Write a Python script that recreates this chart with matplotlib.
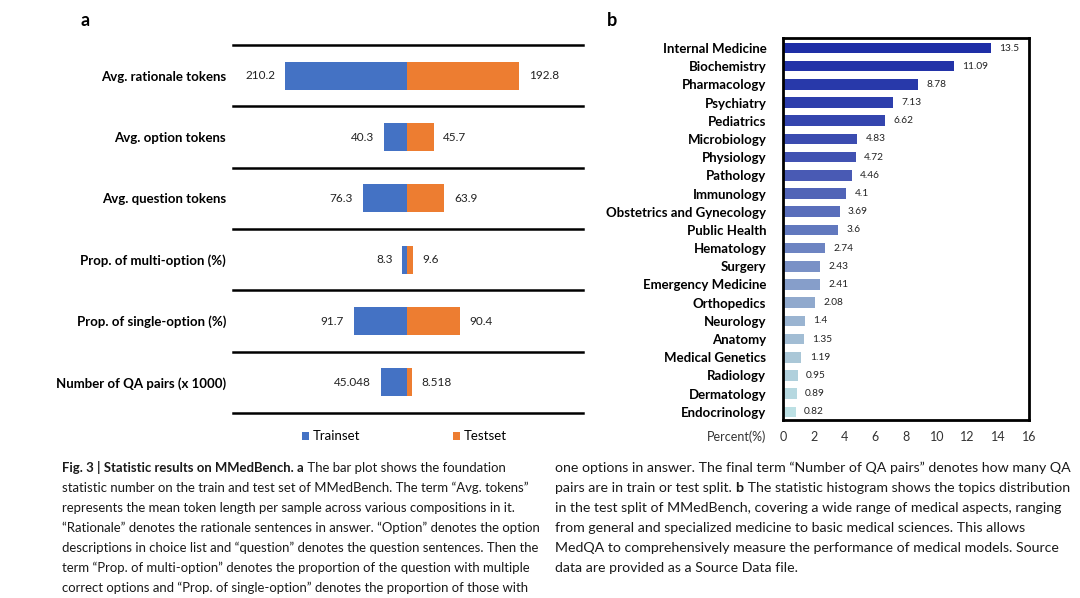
import matplotlib
matplotlib.use('Agg')
import matplotlib.pyplot as plt
import numpy as np
from matplotlib.colors import LinearSegmentedColormap
from matplotlib.patches import Patch

# ---------------- data ----------------
stat_labels = ["Avg. rationale tokens", "Avg. option tokens", "Avg. question tokens",
               "Prop. of multi-option (%)", "Prop. of single-option (%)",
               "Number of QA pairs (x 1000)"]
train_vals = [210.2, 40.3, 76.3, 8.3, 91.7, 45.048]
test_vals = [192.8, 45.7, 63.9, 9.6, 90.4, 8.518]

topics = ["Internal Medicine", "Biochemistry", "Pharmacology", "Psychiatry", "Pediatrics",
          "Microbiology", "Physiology", "Pathology", "Immunology",
          "Obstetrics and Gynecology", "Public Health", "Hematology", "Surgery",
          "Emergency Medicine", "Orthopedics", "Neurology", "Anatomy",
          "Medical Genetics", "Radiology", "Dermatology", "Endocrinology"]
topic_pct = [13.5, 11.09, 8.78, 7.13, 6.62, 4.83, 4.72, 4.46, 4.1, 3.69, 3.6, 2.74,
             2.43, 2.41, 2.08, 1.4, 1.35, 1.19, 0.95, 0.89, 0.82]
pct_ticks = [0, 2, 4, 6, 8, 10, 12, 14, 16]

caption_left = [
    [("Fig. 3 | Statistic results on MMedBench. a", True), (" The bar plot shows the foundation", False)],
    [("statistic number on the train and test set of MMedBench. The term \u201cAvg. tokens\u201d", False)],
    [("represents the mean token length per sample across various compositions in it.", False)],
    [("\u201cRationale\u201d denotes the rationale sentences in answer. \u201cOption\u201d denotes the option", False)],
    [("descriptions in choice list and \u201cquestion\u201d denotes the question sentences. Then the", False)],
    [("term \u201cProp. of multi-option\u201d denotes the proportion of the question with multiple", False)],
    [("correct options and \u201cProp. of single-option\u201d denotes the proportion of those with", False)],
]
caption_right = [
    [("one options in answer. The final term \u201cNumber of QA pairs\u201d denotes how many QA", False)],
    [("pairs are in train or test split. ", False), ("b", True), (" The statistic histogram shows the topics distribution", False)],
    [("in the test split of MMedBench, covering a wide range of medical aspects, ranging", False)],
    [("from general and specialized medicine to basic medical sciences. This allows", False)],
    [("MedQA to comprehensively measure the performance of medical models. Source", False)],
    [("data are provided as a Source Data file.", False)],
]

# ---------------- style ----------------
BLUE = '#4472C4'
ORANGE = '#ED7D31'
LABEL_FONT = ['Lato', 'DejaVu Sans']
CAP_FONT = ['Lato', 'DejaVu Sans']
W, H = 1080, 598

fig = plt.figure(figsize=(W / 100, H / 100), dpi=100)
fig.patch.set_facecolor('white')

def fx(px):
    return px / W

def fy(py):
    return 1 - py / H

# ---------------- panel a ----------------
axa = fig.add_axes([fx(233), fy(413), fx(583) - fx(233), fy(45) - fy(413)])
ypos = np.arange(len(stat_labels))
tr = np.array(train_vals)
te = np.array(test_vals)
axa.barh(ypos, -tr, height=0.46, color=BLUE, edgecolor='none')
axa.barh(ypos, te, height=0.46, color=ORANGE, edgecolor='none')
axa.set_xlim(-300, 303)
axa.set_ylim(len(stat_labels) - 0.5, -0.5)
for b in np.arange(len(stat_labels) + 1) - 0.5:
    axa.axhline(b, color='black', lw=1.8, clip_on=False)
for s in axa.spines.values():
    s.set_visible(False)
axa.set_xticks([])
axa.set_yticks(ypos)
axa.set_yticklabels(stat_labels, fontfamily=LABEL_FONT, fontweight='bold', fontsize=9.5)
axa.tick_params(axis='y', length=0, pad=5)
for i, (a, b) in enumerate(zip(train_vals, test_vals)):
    axa.annotate(str(a), (-a, i), xytext=(-7, 0), textcoords='offset points',
                 ha='right', va='center', fontsize=8.5, fontfamily=LABEL_FONT, color='#222222')
    axa.annotate(str(b), (b, i), xytext=(7, 0), textcoords='offset points',
                 ha='left', va='center', fontsize=8.5, fontfamily=LABEL_FONT, color='#222222')
handles = [Patch(facecolor=BLUE, label='Trainset'), Patch(facecolor=ORANGE, label='Testset')]
leg = axa.legend(handles=handles, loc='upper center', bbox_to_anchor=(0.49, -0.015), ncol=2,
                 frameon=False, handlelength=0.55, handleheight=0.55, handletextpad=0.3,
                 columnspacing=7.0, prop={'family': LABEL_FONT, 'size': 9.5})

fig.text(fx(85), fy(20), 'a', fontsize=13, fontweight='bold', fontfamily=LABEL_FONT,
         ha='center', va='center')
fig.text(fx(612), fy(20), 'b', fontsize=13, fontweight='bold', fontfamily=LABEL_FONT,
         ha='center', va='center')

# ---------------- panel b ----------------
axb = fig.add_axes([fx(783), fy(420), fx(1029) - fx(783), fy(38) - fy(420)])
cmap = LinearSegmentedColormap.from_list('topic', ['#1E2EA6', '#2F40AD', '#4657B3', '#6178BE',
                                                   '#8AA2CB', '#A8C4D6', '#BCE0E4'])
colors = cmap(np.linspace(0, 1, len(topics)))
yb = np.arange(len(topics))
axb.barh(yb, topic_pct, height=0.58, color=colors, edgecolor='none')
axb.set_xlim(0, 16)
axb.set_ylim(len(topics) - 0.55, -0.55)
axb.set_xticks(pct_ticks)
axb.set_xticklabels([str(t) for t in pct_ticks], fontfamily=LABEL_FONT, fontsize=9, color='#333333')
axb.tick_params(axis='x', length=0, pad=8)
axb.set_yticks(yb)
axb.set_yticklabels(topics, fontfamily=LABEL_FONT, fontweight='bold', fontsize=9.5)
axb.tick_params(axis='y', length=0, pad=12)
for s in axb.spines.values():
    s.set_linewidth(2.0)
    s.set_color('black')
for i, v in enumerate(topic_pct):
    axb.annotate(str(v), (v, i), xytext=(6, 0), textcoords='offset points',
                 ha='left', va='center', fontsize=7.3, fontfamily=LABEL_FONT, color='#222222')
fig.text(fx(766), fy(437), 'Percent(%)', ha='right', va='center', fontsize=9,
         fontfamily=LABEL_FONT, color='#333333')

# ---------------- caption ----------------
fig.canvas.draw()
renderer = fig.canvas.get_renderer()

def line_width(segs, size):
    total = 0.0
    for txt, bold in segs:
        t = fig.text(0, 0, txt, fontsize=size, fontfamily=CAP_FONT,
                     fontweight='bold' if bold else 'normal')
        total += t.get_window_extent(renderer=renderer).width
        t.remove()
    return total

def fit_size(lines, target, base=10.5):
    widest = max(line_width(segs, base) for segs in lines)
    return min(base, base * target / widest)

def draw_lines(lines, x0, y0, step, size):
    for k, segs in enumerate(lines):
        xp = x0
        yp = y0 + k * step
        for txt, bold in segs:
            t = fig.text(fx(xp), fy(yp), txt, fontsize=size, fontfamily=CAP_FONT,
                         fontweight='bold' if bold else 'normal', ha='left', va='baseline',
                         color='#1a1a1a')
            bb = t.get_window_extent(renderer=renderer)
            xp = bb.x1

draw_lines(caption_left, 62, 472, 20, fit_size(caption_left, 483))
draw_lines(caption_right, 555, 472, 20, fit_size(caption_right, 518))

fig.savefig('out.png', dpi=100, facecolor='white')
